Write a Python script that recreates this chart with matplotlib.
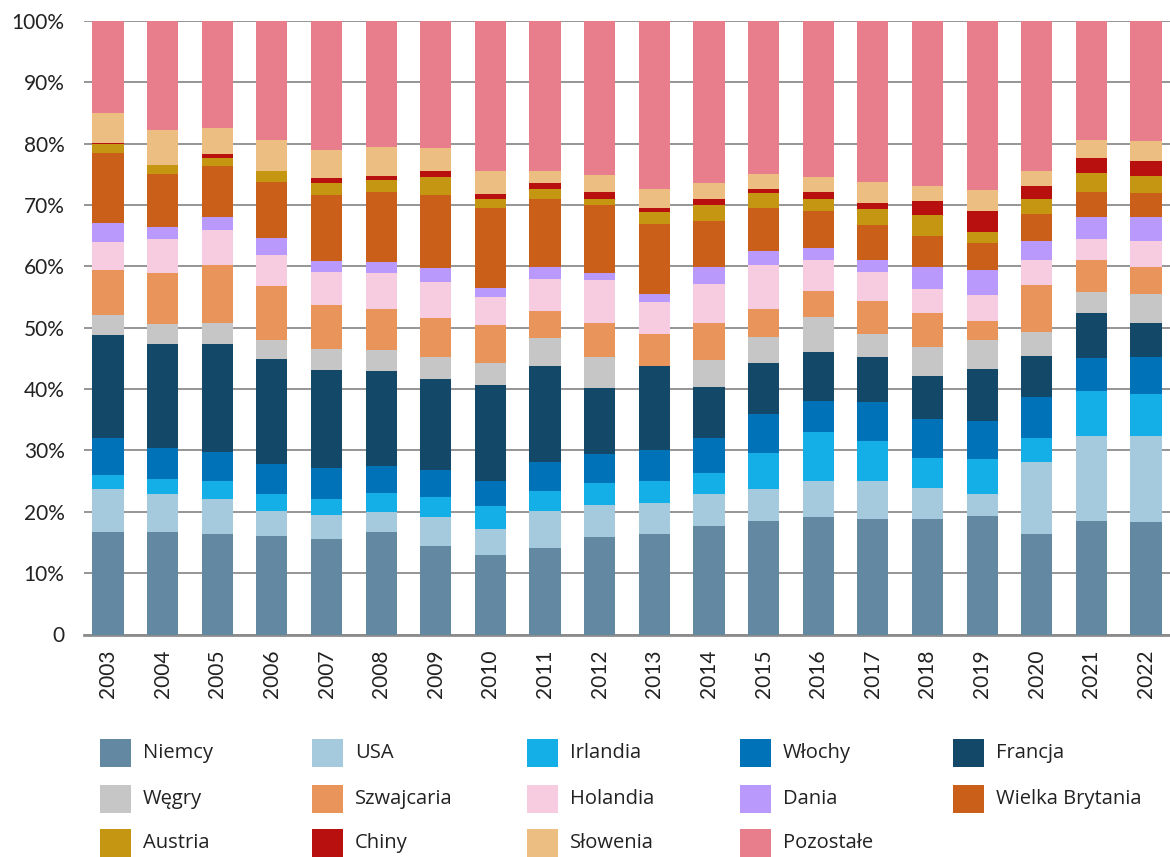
import matplotlib
matplotlib.use("Agg")
import matplotlib.pyplot as plt
from matplotlib.patches import Rectangle
import numpy as np

years = [str(y) for y in range(2003, 2023)]

series_names = ["Niemcy", "USA", "Irlandia", "Włochy", "Francja",
                "Węgry", "Szwajcaria", "Holandia", "Dania", "Wielka Brytania",
                "Austria", "Chiny", "Słowenia", "Pozostałe"]

niemcy = [16.7, 16.7, 16.4, 16.1, 15.6, 16.7, 14.5, 13.0, 14.1, 15.9, 16.4, 17.7, 18.5, 19.2, 18.9, 18.9, 19.4, 16.4, 18.5, 18.4]
usa = [7.0, 6.2, 5.7, 4.1, 3.9, 3.3, 4.7, 4.2, 6.0, 5.2, 5.1, 5.2, 5.2, 5.9, 6.2, 5.0, 3.6, 11.7, 13.9, 14.0]
irlandia = [2.3, 2.5, 2.9, 2.8, 2.6, 3.1, 3.3, 3.8, 3.4, 3.6, 3.6, 3.4, 5.9, 8.0, 6.4, 4.9, 5.6, 3.9, 7.2, 6.9]
wlochy = [6.0, 5.0, 4.7, 4.9, 5.1, 4.4, 4.4, 4.1, 4.6, 4.7, 5.1, 5.7, 6.4, 5.1, 6.4, 6.4, 6.2, 6.7, 5.5, 5.9]
francja = [16.8, 17.0, 17.6, 17.1, 16.0, 15.5, 14.8, 15.7, 15.7, 10.8, 13.7, 8.3, 8.3, 8.0, 7.3, 7.0, 8.6, 6.7, 7.3, 5.7]
wegry = [3.4, 3.2, 3.4, 3.1, 3.4, 3.4, 3.6, 3.6, 4.7, 5.1, 0.0, 4.4, 4.2, 5.7, 3.9, 4.7, 4.6, 3.9, 3.4, 4.7]
szwajcaria = [7.2, 8.3, 9.5, 8.8, 7.1, 6.6, 6.3, 6.2, 4.4, 5.6, 5.2, 6.0, 4.5, 4.2, 5.3, 5.5, 3.2, 7.6, 5.2, 4.4]
holandia = [4.7, 5.6, 5.7, 5.1, 5.4, 5.9, 5.9, 4.5, 5.1, 7.0, 5.2, 6.3, 7.2, 5.1, 4.7, 3.9, 4.2, 4.1, 3.4, 4.2]
dania = [3.1, 1.9, 2.1, 2.8, 1.8, 1.8, 2.3, 1.5, 2.0, 1.1, 1.3, 2.8, 2.3, 2.0, 2.0, 3.6, 4.1, 3.1, 3.6, 3.9]
wielka_brytania = [11.3, 8.6, 8.3, 9.1, 10.8, 11.4, 11.9, 13.0, 11.1, 11.1, 11.4, 7.5, 7.0, 6.0, 5.7, 5.1, 4.4, 4.4, 4.1, 3.9]
austria = [1.5, 1.6, 1.3, 1.8, 2.0, 2.0, 2.9, 1.6, 1.6, 1.0, 2.0, 2.6, 2.5, 2.0, 2.6, 3.4, 1.8, 2.5, 3.1, 2.8]
chiny = [0.2, 0.0, 0.7, 0.0, 0.8, 0.7, 1.0, 0.7, 1.0, 1.1, 0.7, 1.0, 0.6, 1.1, 1.0, 2.3, 3.4, 2.1, 2.4, 2.4]
slowenia = [4.9, 5.6, 4.2, 5.1, 4.6, 4.7, 3.8, 3.8, 2.0, 2.8, 3.1, 2.6, 2.4, 2.5, 3.4, 2.5, 3.4, 2.4, 2.9, 3.3]
pozostale = [15.0, 17.8, 17.4, 19.4, 21.0, 20.5, 20.7, 24.5, 24.5, 25.1, 27.4, 26.4, 25.0, 25.4, 26.3, 26.9, 27.6, 24.5, 19.4, 19.6]

colors = ["#6388A2", "#A5CADD", "#14AFE6", "#0072B8", "#134868",
          "#C6C6C6", "#E8945A", "#F7CBE0", "#B99AFC", "#C95F19",
          "#C59612", "#B8100E", "#EDBE82", "#E87E8C"]

data = np.array([niemcy, usa, irlandia, wlochy, francja, wegry, szwajcaria,
                 holandia, dania, wielka_brytania, austria, chiny, slowenia,
                 pozostale], dtype=float)
# 100% stacked: each year's shares scaled to sum to 100
shares = data / data.sum(axis=0) * 100

W, H = 1170, 857
fig = plt.figure(figsize=(W / 100, H / 100), dpi=100)
ax = fig.add_axes([84 / W, (H - 634.5) / H, (W - 84) / W, (634.5 - 21) / H])

x = np.arange(len(years))
bottom = np.zeros(len(years))
for vals, col in zip(shares, colors):
    ax.bar(x, vals, bottom=bottom, width=0.57, color=col, linewidth=0, zorder=3)
    bottom += vals

ax.set_xlim(-0.44, len(years) - 1 + 0.44)
ax.set_ylim(0, 100)
ax.set_yticks(np.arange(0, 101, 10))
ax.set_yticklabels(["0"] + [f"{v}%" for v in range(10, 101, 10)])
ax.set_xticks(x)
ax.set_xticklabels(years, rotation=90)

tick_font = dict(family="Lato", size=15, color="#222222")
for lbl in ax.get_yticklabels():
    lbl.set(**tick_font)
for lbl in ax.get_xticklabels():
    lbl.set(**tick_font)

ax.yaxis.grid(True, color="#8C8C8C", linewidth=1.3, zorder=0)
ax.set_axisbelow(True)
for side in ["top", "right", "left"]:
    ax.spines[side].set_visible(False)
ax.spines["bottom"].set_color("#8C8C8C")
ax.spines["bottom"].set_linewidth(2)
ax.tick_params(axis="y", length=0, pad=14)
ax.tick_params(axis="x", length=0, pad=11)

# Legend: 3 rows x 5 columns of colour squares with labels
col_x = [100, 312, 527, 740, 953]
row_y = [753, 799, 843]
sq_w, sq_h = 31, 28
for i, (name, col) in enumerate(zip(series_names, colors)):
    r, c = divmod(i, 5)
    px, py = col_x[c], row_y[r]
    fig.patches.append(Rectangle((px / W, (H - py - sq_h / 2) / H),
                                 sq_w / W, sq_h / H,
                                 transform=fig.transFigure, color=col,
                                 linewidth=0))
    fig.text((px + sq_w + 12) / W, (H - py) / H, name,
             family="Open Sans", fontsize=14.5, color="#222222",
             va="center", ha="left")

fig.savefig("out.png", dpi=100, facecolor="white")
